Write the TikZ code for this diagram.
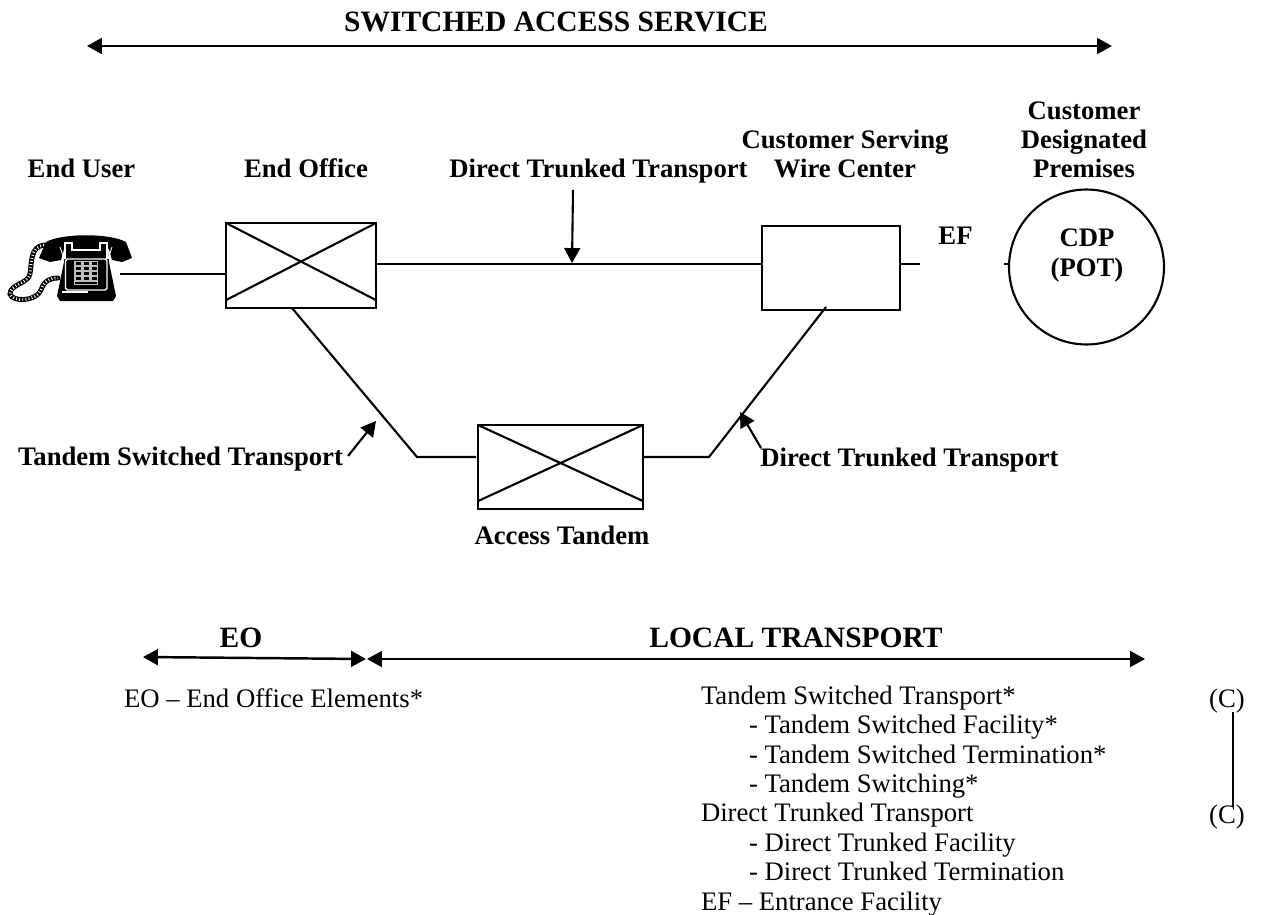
\documentclass[tikz,border=0pt]{standalone}
\usepackage{fontspec}
\setmainfont{Liberation Serif}
\usetikzlibrary{arrows.meta}
\begin{document}
\begin{tikzpicture}[x=0.02cm,y=-0.02cm,line width=1.2pt,
	every node/.style={font=\fontsize{15.2}{16.7}\selectfont,inner sep=0pt,outer sep=0pt},
	head/.style={font=\fontsize{15.2}{16.7}\selectfont\bfseries,align=center,anchor=base},
	bighead/.style={font=\fontsize{16.8}{18}\selectfont\bfseries,anchor=base},
	listing/.style={anchor=base west,align=left},
	plainbox/.style={draw},
	span/.style={line width=1.4pt,{Triangle[length=8.5pt,width=9pt]}-{Triangle[length=8.5pt,width=9pt]}},
	pointer/.style={-{Triangle[length=8.5pt,width=9pt]}},
	cord/.style={line width=2.8pt,line cap=round}]
	\useasboundingbox (0,0) rectangle (1263,915);
	% top span
	\node[bighead] (title) at (556,32) {SWITCHED ACCESS SERVICE};
	\coordinate (topl) at (87,46);
	\coordinate (topr) at (1112,46);
	\draw[span] (topl) -- (topr);
	% headings
	\node[head] (enduser) at (81.5,178) {End User};
	\node[head] (endoffice) at (306,178) {End Office};
	\node[head] (dtt) at (598.5,178) {Direct Trunked Transport};
	\node[head] (cswc) at (845,178) {Customer Serving\\Wire Center};
	\node[head] (cdphead) at (1084,178) {Customer\\Designated\\Premises};
	% switches
	\node[plainbox,minimum width=3cm,minimum height=1.7cm] (eo) at (301,265.5) {};
	\node[plainbox,minimum width=3.3cm,minimum height=1.68cm] (at) at (560.5,467) {};
	\node[plainbox,minimum width=2.76cm,minimum height=1.68cm] (wc) at (831,268) {};
	\foreach \b in {eo,at} {
		\draw (\b.north west) -- ([yshift=4.5pt]\b.south east);
		\draw ([yshift=4.5pt]\b.south west) -- (\b.north east);
	}
	\node[draw,circle,minimum size=3.1cm] (cdp) at (1086.5,267) {};
	\node[head] (cdpt) at (1087,276) {CDP\\(POT)};
	\node[head] (ef) at (955.5,245) {EF};
	% phone
	\draw[cord] (44,245) .. controls (30,247) and (32,262) .. (30,274) .. controls (28,284) and (10,284) .. (10,294) .. controls (12,302) and (36,302) .. (41,290) .. controls (44,281) and (50,278) .. (58,278);
	\draw[cord,white,line width=1.6pt,line cap=butt,dash pattern=on .5pt off 1.3pt] (44,245) .. controls (30,247) and (32,262) .. (30,274) .. controls (28,284) and (10,284) .. (10,294) .. controls (12,302) and (36,302) .. (41,290) .. controls (44,281) and (50,278) .. (58,278);
	\fill (46,242) .. controls (62,233) and (110,233) .. (126,242) -- (132,258) -- (122,262) -- (112,260) -- (109,249) -- (64,249) -- (61,260) -- (50,262) -- (39,258) -- cycle;
	\fill (64,262) -- (66,243) -- (107,243) -- (109,262) -- (116,296) -- (113,301) -- (60,301) -- (57,296) -- cycle;
	\draw[white,line width=.6pt] (65,259) -- (65,243) -- (72,243) -- (72,250) -- (100,250) -- (100,243) -- (107,243) -- (107,259);
	\draw[white,line width=.5pt] (60,247) -- (64,259) (112,247) -- (108,259);
	\draw[white,line width=.8pt,rounded corners=1pt] (65.5,259) rectangle (107,290);
	\fill[white!75!black] (74,261) rectangle (98,285);
	\foreach \i in {0,1,2} \foreach \j in {0,1,2,3} {
		\fill (75.5+8*\i,262.5+4.8*\j) rectangle (81+8*\i,265.5+4.8*\j);
	}
	\fill (75,282) rectangle (97,284);
	\draw[white,line width=.6pt] (62,292) -- (88,292);
	\coordinate (phone) at (120,274);
	% links
	\draw (phone) -- (eo.west |- phone);
	\draw (eo.east |- 0,264) -- (wc.west |- 0,264);
	\coordinate (efl) at (920,264);
	\coordinate (efs) at (1004,264);
	\draw (wc.east |- efl) -- (efl);
	\draw (efs) -- (cdp.west |- efs);
	\coordinate (eoleg) at (292,308);
	\coordinate (eobend) at (417,457);
	\coordinate (atl) at (476,457);
	\coordinate (wcleg) at (826,307);
	\coordinate (wcbend) at (709,457);
	\draw (eoleg) -- (eobend) -- (atl);
	\draw (at.east |- wcbend) -- (wcbend) -- (wcleg);
	% pointers
	\coordinate (dtttail) at (573,190);
	\coordinate (dtttip) at (572,263);
	\coordinate (tsttail) at (348,456);
	\coordinate (tsttip) at (376,421);
	\coordinate (dt2tail) at (761,448);
	\coordinate (dt2tip) at (740,412);
	\draw[pointer] (dtttail) -- (dtttip);
	\draw[pointer] (tsttail) -- (tsttip);
	\draw[pointer] (dt2tail) -- (dt2tip);
	% lower labels
	\node[head] (tst) at (180.5,465) {Tandem Switched Transport};
	\node[head] (dt2) at (909.5,466) {Direct Trunked Transport};
	\node[head] (atlabel) at (562,544) {Access Tandem};
	% bottom spans
	\node[bighead] (eol) at (241,647) {EO};
	\node[bighead] (lt) at (796,647) {LOCAL TRANSPORT};
	\coordinate (eoa) at (143,657);
	\coordinate (eob) at (366,659);
	\coordinate (lta) at (367,659);
	\coordinate (ltb) at (1145,659);
	\draw[span] (eoa) -- (eob);
	\draw[span] (lta) -- (ltb);
	% lists
	\node[listing] (eolist) at (124,707) {EO – End Office Elements*};
	\node[listing] (ltlist) at (701,910) {Tandem Switched Transport*\\
		\hspace{.96cm}- Tandem Switched Facility*\\
		\hspace{.96cm}- Tandem Switched Termination*\\
		\hspace{.96cm}- Tandem Switching*\\
		Direct Trunked Transport\\
		\hspace{.96cm}- Direct Trunked Facility\\
		\hspace{.96cm}- Direct Trunked Termination\\
		EF – Entrance Facility};
	\node[anchor=base] (c1) at (1227,707) {(C)};
	\node[anchor=base] (c2) at (1227,823) {(C)};
	\coordinate (cl1) at (1233,712);
	\coordinate (cl2) at (1233,807);
	\draw (cl1) -- (cl2);
\end{tikzpicture}
\end{document}
